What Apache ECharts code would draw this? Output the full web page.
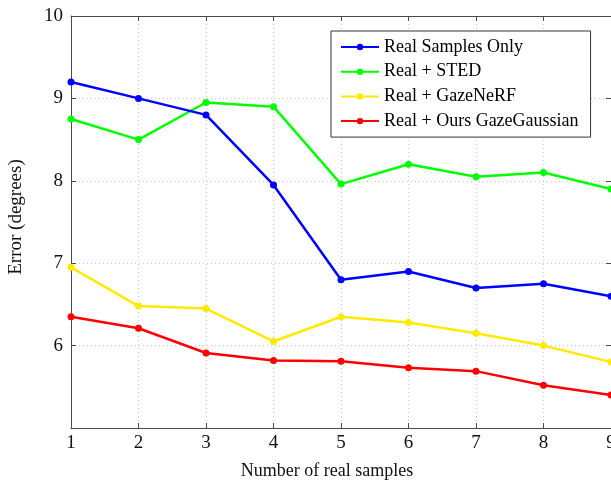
<!DOCTYPE html>
<html>
<head>
<meta charset="utf-8">
<script src="https://cdn.jsdelivr.net/npm/echarts@6/dist/echarts.min.js"></script>
<style>html,body{margin:0;padding:0;background:#fff;}#c{width:611px;height:481px;}</style>
</head>
<body>
<div id="c"></div>
<script>
const xValues = [1, 2, 3, 4, 5, 6, 7, 8, 9];
const realOnly = [9.2, 9.0, 8.8, 7.95, 6.8, 6.9, 6.7, 6.75, 6.6];
const realSted = [8.75, 8.5, 8.95, 8.9, 7.96, 8.2, 8.05, 8.1, 7.9];
const realGazeNerf = [6.95, 6.48, 6.45, 6.05, 6.35, 6.28, 6.15, 6.0, 5.8];
const realGazeGaussian = [6.35, 6.21, 5.91, 5.82, 5.81, 5.73, 5.69, 5.52, 5.4];
const seriesNames = ['Real Samples Only', 'Real + STED', 'Real + GazeNeRF', 'Real + Ours GazeGaussian'];
const seriesColors = ['#0000ff', '#00ff00', '#ffea00', '#ff0000'];
const seriesData = [realOnly, realSted, realGazeNerf, realGazeGaussian];

const font = 'Liberation Serif, Times New Roman, serif';
const axisColor = '#4a4a4a';
const gridLine = {show: true, lineStyle: {color: '#c8c8c8', type: [1, 3], width: 1}};

const chart = echarts.init(document.getElementById('c'));
chart.setOption({
  animation: false,
  backgroundColor: '#fff',
  grid: {left: 71, right: 0, top: 16, bottom: 53, containLabel: false, outerBoundsMode: 'none'},
  legend: {
    orient: 'vertical', left: 331, top: 31,
    data: seriesNames,
    backgroundColor: '#fff', borderColor: '#333', borderWidth: 1,
    padding: [7, 12, 7, 9], itemWidth: 38, itemHeight: 8, itemGap: 6.7,
    textStyle: {fontFamily: font, fontSize: 18, lineHeight: 16, color: '#000'}
  },
  xAxis: [{
    type: 'value', min: 1, max: 9, interval: 1,
    name: 'Number of real samples', nameLocation: 'middle', nameGap: 34,
    nameTextStyle: {fontFamily: font, fontSize: 18, color: '#111', padding: [0, 28, 0, 0]},
    axisLine: {show: true, lineStyle: {color: axisColor, width: 1}},
    axisTick: {show: true, inside: true, length: 5, lineStyle: {color: axisColor}},
    axisLabel: {fontFamily: font, fontSize: 19, color: '#111', margin: 6},
    splitLine: gridLine
  }, {
    type: 'value', min: 1, max: 9, interval: 1, position: 'top',
    axisLine: {show: true, lineStyle: {color: axisColor, width: 1}},
    axisTick: {show: true, inside: true, length: 5, lineStyle: {color: axisColor}},
    axisLabel: {show: false}, splitLine: {show: false}
  }],
  yAxis: [{
    type: 'value', min: 5, max: 10, interval: 1,
    name: 'Error (degrees)', nameLocation: 'middle', nameGap: 45, nameRotate: 90,
    nameTextStyle: {fontFamily: font, fontSize: 19, color: '#111', padding: [0, 0, 0, 10]},
    axisLine: {show: true, lineStyle: {color: axisColor, width: 1}},
    axisTick: {show: true, inside: true, length: 5, lineStyle: {color: axisColor}},
    axisLabel: {fontFamily: font, fontSize: 19, color: '#111', margin: 8,
      formatter: v => (v === 5 ? '' : String(v))},
    splitLine: gridLine
  }, {
    type: 'value', min: 5, max: 10, interval: 1, position: 'right',
    axisLine: {show: true, lineStyle: {color: axisColor, width: 1}},
    axisTick: {show: true, inside: true, length: 5, lineStyle: {color: axisColor}},
    axisLabel: {show: false}, splitLine: {show: false}
  }],
  series: seriesNames.map((name, i) => ({
    name: name, type: 'line',
    data: xValues.map((x, j) => [x, seriesData[i][j]]),
    symbol: 'circle', symbolSize: 7,
    lineStyle: {color: seriesColors[i], width: 2.5},
    itemStyle: {color: seriesColors[i]},
    z: 10 - i
  }))
});
</script>
</body>
</html>
